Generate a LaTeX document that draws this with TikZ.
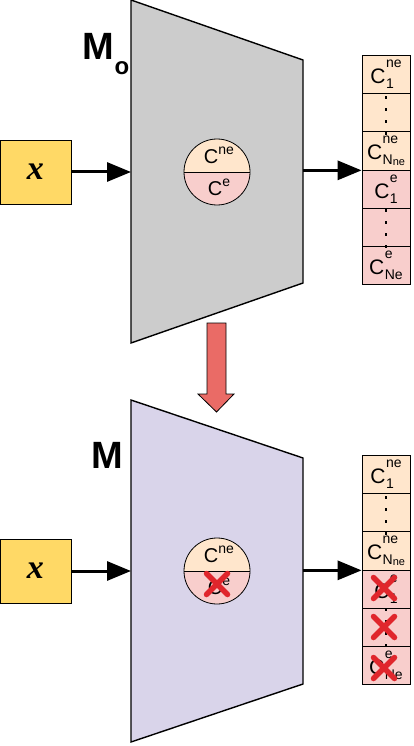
\documentclass[tikz,border=0pt]{standalone}
\usepackage{amsmath}
\usepackage{amssymb}
\usepackage{fontspec}
\setmainfont{Liberation Sans}
\newfontfamily\inputfont{Liberation Serif}
\usepackage{tikz}
\usetikzlibrary{arrows.meta}
\definecolor{modelgray}{HTML}{CCCCCC}
\definecolor{modellilac}{HTML}{D9D4EA}
\definecolor{nefill}{HTML}{FFE6CC}
\definecolor{efill}{HTML}{F8CECC}
\definecolor{inputfill}{HTML}{FFD966}
\definecolor{movered}{HTML}{EA6B66}
\definecolor{crossred}{HTML}{E0262C}
\newcommand{\scr}{\fontsize{14}{14}\selectfont}
\newcommand{\cpair}[2]{C\kern0.5pt\ooalign{\raisebox{16pt}{\scr #1}\cr\raisebox{-5pt}{\scr #2}\cr}}
\newcommand{\subN}[1]{N\raisebox{-1.5pt}{\fontsize{11}{11}\selectfont #1}}
\newcommand{\chead}[1]{C\raisebox{9pt}{\scr #1}}

\begin{document}
\begin{tikzpicture}[x=1pt, y=-1pt,
    model/.style={draw, line width=1.4pt},
    inbox/.style={draw, line width=0.8pt, fill=inputfill, minimum width=71pt,
      minimum height=64pt, inner sep=0pt,
      font=\fontsize{34}{34}\selectfont\inputfont\bfseries\itshape},
    cell/.style={draw, line width=0.8pt, minimum width=48pt, minimum height=38.3pt,
      inner sep=0pt, font=\fontsize{21}{21}\selectfont},
    half/.style={inner sep=0pt, font=\fontsize{20}{20}\selectfont},
    flow/.style={line width=3pt, -{Triangle[length=24pt, width=19pt]}},
    modelname/.style={anchor=base west, font=\fontsize{38}{38}\selectfont\bfseries},
    redx/.pic={\draw[crossred, line width=5.5pt, line cap=round]
      (-10.5,-10.5) -- (10.5,10.5) (-10.5,10.5) -- (10.5,-10.5);}
  ]
    \useasboundingbox (0,0) rectangle (413,746);

    % original model
    \draw[model, fill=modelgray] (131,0) -- (303,60) -- (303,283) -- (131,343) -- cycle;
    \coordinate (mo-in) at (131,172);
    \coordinate (mo-out) at (303,172);
    \node[modelname] (mo) at (79,60) {M};
    \node[anchor=base west, font=\fontsize{24}{24}\selectfont\bfseries]
      (mo-sub) at (111,75) {o};
    \node[inbox] (xo) at (35.5,172) {x};
    \node[circle, minimum size=66pt, inner sep=0pt] (ho) at (217,172) {};
    \begin{scope}
      \clip (ho) circle[radius=33pt];
      \fill[nefill] (184,139) rectangle (250,172);
      \fill[efill] (184,172) rectangle (250,205);
    \end{scope}
    \draw[line width=0.8pt] (ho.west) -- (ho.east);
    \draw[line width=0.8pt] (ho) circle[radius=33pt];
    \node[half] at (219,155) {\chead{ne}};
    \node[half] at (219,187) {\chead{e}};

    \node[cell, fill=nefill] (co1) at (386,74.2) {\cpair{ne}{1}};
    \node[cell, fill=nefill] (co2) at (386,112.5) {};
    \node[cell, fill=nefill] (co3) at (386,150.8) {\cpair{ne}{\subN{ne}}};
    \node[cell, fill=efill] (co4) at (386,189.1) {\cpair{e}{1}};
    \node[cell, fill=efill] (co5) at (386,227.4) {};
    \node[cell, fill=efill] (co6) at (386,265.7) {\cpair{e}{Ne}};
    \foreach \d in {0,...,3} {
      \fill (384.6,96+12*\d) rectangle ++(2.8,2.8);
      \fill (384.6,209+12*\d) rectangle ++(2.8,2.8);
    }

    \draw[flow] (xo.east) -- (mo-in);
    \draw[flow] (co3.south west -| mo-out) -- (co3.south west);

    % move down
    \draw[line width=0.8pt, fill=movered] (207,323) -- (226,323) -- (226,394) -- (234,394)
      -- (216.5,412) -- (198,394) -- (207,394) -- cycle;

    % pruned model
    \draw[model, fill=modellilac] (131,400) -- (303,458) -- (303,684) -- (131,742) -- cycle;
    \coordinate (m-in) at (131,571);
    \coordinate (m-out) at (303,571);
    \node[modelname] (m) at (88,468) {M};
    \node[inbox] (xm) at (35.5,571) {x};
    \node[circle, minimum size=66pt, inner sep=0pt] (hm) at (217,571) {};
    \begin{scope}
      \clip (hm) circle[radius=33pt];
      \fill[nefill] (184,538) rectangle (250,571);
      \fill[efill] (184,571) rectangle (250,604);
    \end{scope}
    \draw[line width=0.8pt] (hm.west) -- (hm.east);
    \draw[line width=0.8pt] (hm) circle[radius=33pt];
    \node[half] at (219,554) {\chead{ne}};
    \node[half] at (219,586) {\chead{e}};

    \node[cell, fill=nefill] (cm1) at (386,474.2) {\cpair{ne}{1}};
    \node[cell, fill=nefill] (cm2) at (386,512.5) {};
    \node[cell, fill=nefill] (cm3) at (386,550.8) {\cpair{ne}{\subN{ne}}};
    \node[cell, fill=efill] (cm4) at (386,589.1) {\cpair{e}{1}};
    \node[cell, fill=efill] (cm5) at (386,627.4) {};
    \node[cell, fill=efill] (cm6) at (386,665.7) {\cpair{e}{Ne}};
    \foreach \d in {0,...,3} {
      \fill (384.6,496+12*\d) rectangle ++(2.8,2.8);
      \fill (384.6,608+12*\d) rectangle ++(2.8,2.8);
    }

    \draw[flow] (xm.east) -- (m-in);
    \draw[flow] (cm3.south west -| m-out) -- (cm3.south west);

    \pic at (217,584) {redx};
    \pic at (384,588) {redx};
    \pic at (384,627) {redx};
    \pic at (384,668) {redx};
\end{tikzpicture}
\end{document}
